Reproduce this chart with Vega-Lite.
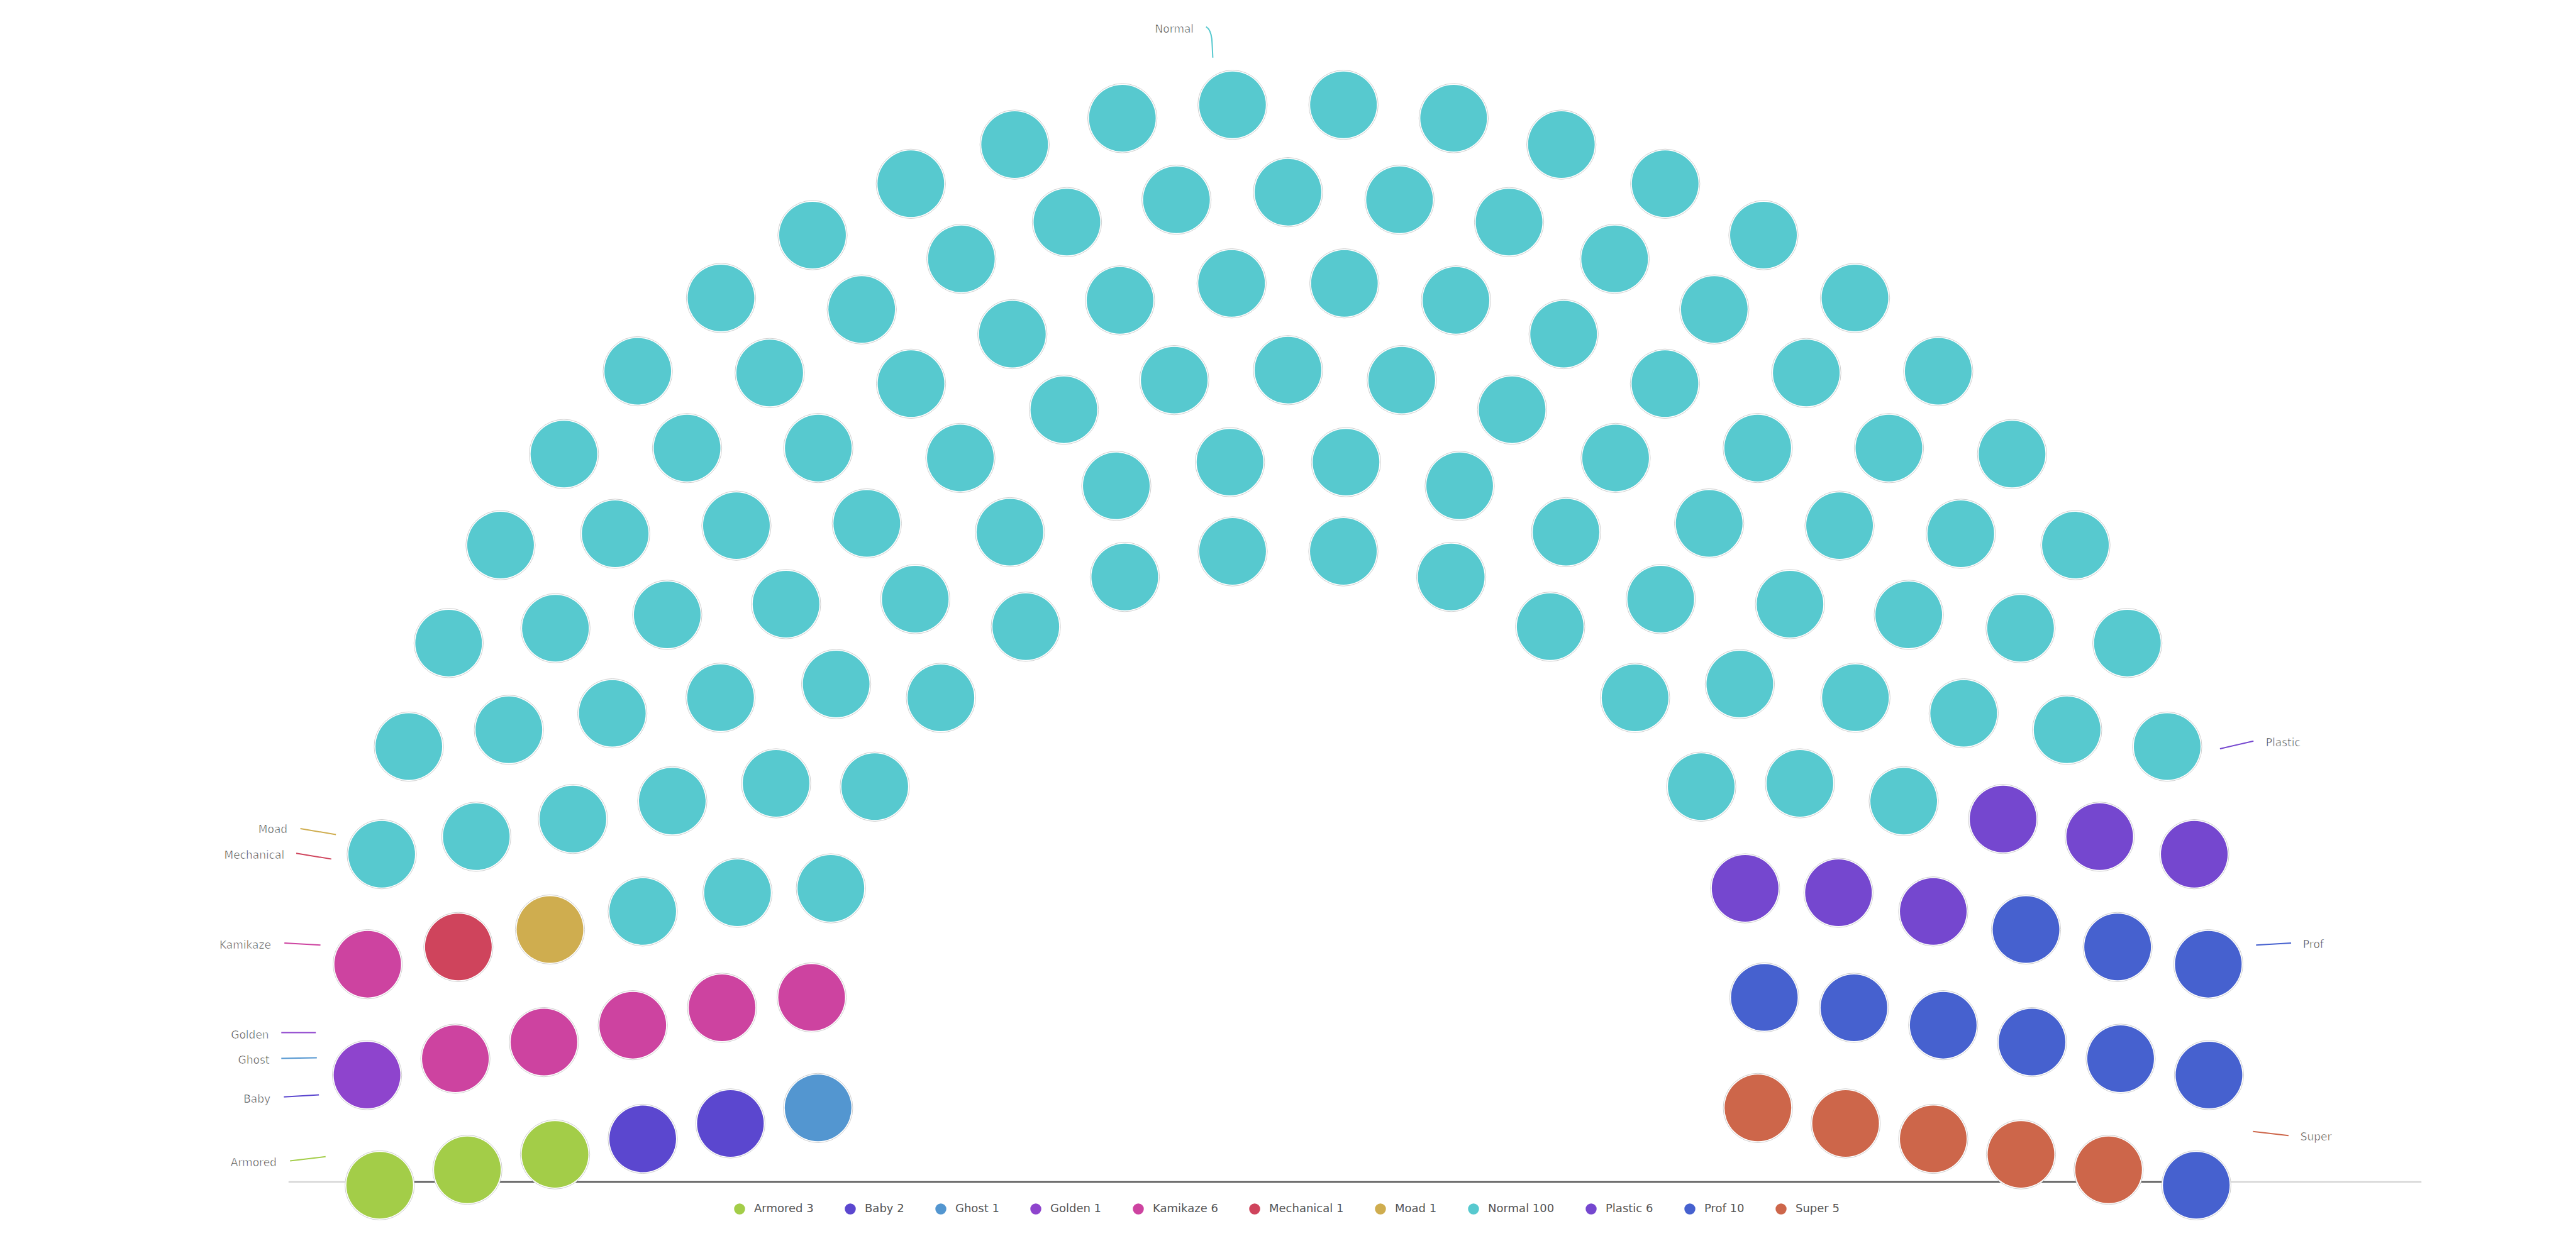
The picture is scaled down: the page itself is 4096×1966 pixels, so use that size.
{
  "$schema": "https://vega.github.io/schema/vega-lite/v6.json",
  "width": 4096,
  "height": 1966,
  "autosize": "none",
  "padding": 0,
  "background": "white",
  "config": {"view": {"stroke": null}},
  "datasets": {
    "seats": [
      {"party":"Armored","x":737.0,"y":2301.5},{"party":"Golden","x":712.4,"y":2087.5},{"party":"Kamikaze","x":713.7,"y":1872.2},
      {"party":"Normal","x":740.9,"y":1658.6},{"party":"Normal","x":793.5,"y":1449.7},{"party":"Normal","x":870.8,"y":1248.7},{"party":"Normal","x":971.6,"y":1058.5},{"party":"Normal","x":1094.6,"y":881.6},{"party":"Normal","x":1237.9,"y":720.9},{"party":"Normal","x":1399.5,"y":578.6},{"party":"Normal","x":1577.1,"y":456.6},{"party":"Normal","x":1767.9,"y":356.9},{"party":"Normal","x":1969.4,"y":280.8},{"party":"Normal","x":2178.5,"y":229.5},{"party":"Normal","x":2392.3,"y":203.6},{"party":"Normal","x":2607.7,"y":203.6},{"party":"Normal","x":2821.5,"y":229.5},{"party":"Normal","x":3030.6,"y":280.8},{"party":"Normal","x":3232.1,"y":356.9},{"party":"Normal","x":3422.9,"y":456.6},{"party":"Normal","x":3600.5,"y":578.6},{"party":"Normal","x":3762.1,"y":720.9},{"party":"Normal","x":3905.4,"y":881.6},{"party":"Normal","x":4028.4,"y":1058.5},{"party":"Normal","x":4129.2,"y":1248.7},{"party":"Normal","x":4206.5,"y":1449.7},
      {"party":"Plastic","x":4259.1,"y":1658.6},{"party":"Prof","x":4286.3,"y":1872.2},{"party":"Prof","x":4287.6,"y":2087.5},{"party":"Prof","x":4263.0,"y":2301.5},
      {"party":"Armored","x":907.2,"y":2271.5},{"party":"Kamikaze","x":883.9,"y":2055.7},{"party":"Mechanical","x":889.7,"y":1838.8},
      {"party":"Normal","x":924.5,"y":1624.6},{"party":"Normal","x":987.7,"y":1417.1},{"party":"Normal","x":1078.1,"y":1219.8},{"party":"Normal","x":1194.1,"y":1036.4},{"party":"Normal","x":1333.6,"y":870.2},{"party":"Normal","x":1494.0,"y":724.2},{"party":"Normal","x":1672.6,"y":600.9},{"party":"Normal","x":1866.0,"y":502.6},{"party":"Normal","x":2070.9,"y":431.2},{"party":"Normal","x":2283.5,"y":387.8},{"party":"Normal","x":2500.0,"y":373.2},{"party":"Normal","x":2716.5,"y":387.8},{"party":"Normal","x":2929.1,"y":431.2},{"party":"Normal","x":3134.0,"y":502.6},{"party":"Normal","x":3327.4,"y":600.9},{"party":"Normal","x":3506.0,"y":724.2},{"party":"Normal","x":3666.4,"y":870.2},{"party":"Normal","x":3805.9,"y":1036.4},{"party":"Normal","x":3921.9,"y":1219.8},{"party":"Normal","x":4012.3,"y":1417.1},
      {"party":"Plastic","x":4075.5,"y":1624.6},{"party":"Prof","x":4110.3,"y":1838.8},{"party":"Prof","x":4116.1,"y":2055.7},{"party":"Super","x":4092.8,"y":2271.5},
      {"party":"Armored","x":1077.3,"y":2241.5},{"party":"Kamikaze","x":1055.8,"y":2023.5},{"party":"Moad","x":1067.5,"y":1804.8},
      {"party":"Normal","x":1112.0,"y":1590.3},{"party":"Normal","x":1188.5,"y":1385.1},{"party":"Normal","x":1295.1,"y":1193.8},{"party":"Normal","x":1429.4,"y":1020.7},{"party":"Normal","x":1588.3,"y":870.0},{"party":"Normal","x":1768.3,"y":745.1},{"party":"Normal","x":1965.0,"y":648.8},{"party":"Normal","x":2174.0,"y":583.3},{"party":"Normal","x":2390.5,"y":550.2},{"party":"Normal","x":2609.5,"y":550.2},{"party":"Normal","x":2826.0,"y":583.3},{"party":"Normal","x":3035.0,"y":648.8},{"party":"Normal","x":3231.7,"y":745.1},{"party":"Normal","x":3411.7,"y":870.0},{"party":"Normal","x":3570.6,"y":1020.7},{"party":"Normal","x":3704.9,"y":1193.8},{"party":"Normal","x":3811.5,"y":1385.1},
      {"party":"Plastic","x":3888.0,"y":1590.3},{"party":"Prof","x":3932.5,"y":1804.8},{"party":"Prof","x":3944.2,"y":2023.5},{"party":"Super","x":3922.7,"y":2241.5},
      {"party":"Baby","x":1247.5,"y":2211.4},{"party":"Kamikaze","x":1228.2,"y":1990.6},
      {"party":"Normal","x":1247.5,"y":1769.8},{"party":"Normal","x":1304.9,"y":1555.6},{"party":"Normal","x":1398.6,"y":1354.7},{"party":"Normal","x":1525.7,"y":1173.1},{"party":"Normal","x":1682.5,"y":1016.3},{"party":"Normal","x":1864.1,"y":889.2},{"party":"Normal","x":2065.0,"y":795.5},{"party":"Normal","x":2279.2,"y":738.1},{"party":"Normal","x":2500.0,"y":718.8},{"party":"Normal","x":2720.8,"y":738.1},{"party":"Normal","x":2935.0,"y":795.5},{"party":"Normal","x":3135.9,"y":889.2},{"party":"Normal","x":3317.5,"y":1016.3},{"party":"Normal","x":3474.3,"y":1173.1},{"party":"Normal","x":3601.4,"y":1354.7},{"party":"Normal","x":3695.1,"y":1555.6},
      {"party":"Plastic","x":3752.5,"y":1769.8},{"party":"Prof","x":3771.8,"y":1990.6},{"party":"Super","x":3752.5,"y":2211.4},
      {"party":"Baby","x":1417.7,"y":2181.4},{"party":"Kamikaze","x":1401.5,"y":1956.8},
      {"party":"Normal","x":1431.5,"y":1733.5},{"party":"Normal","x":1506.4,"y":1521.1},{"party":"Normal","x":1623.0,"y":1328.3},{"party":"Normal","x":1776.5,"y":1163.4},{"party":"Normal","x":1960.3,"y":1033.3},{"party":"Normal","x":2166.8,"y":943.4},{"party":"Normal","x":2387.4,"y":897.4},{"party":"Normal","x":2612.6,"y":897.4},{"party":"Normal","x":2833.2,"y":943.4},{"party":"Normal","x":3039.7,"y":1033.3},{"party":"Normal","x":3223.5,"y":1163.4},{"party":"Normal","x":3377.0,"y":1328.3},{"party":"Normal","x":3493.6,"y":1521.1},
      {"party":"Plastic","x":3568.5,"y":1733.5},{"party":"Prof","x":3598.5,"y":1956.8},{"party":"Super","x":3582.3,"y":2181.4},
      {"party":"Ghost","x":1587.9,"y":2151.4},{"party":"Kamikaze","x":1575.4,"y":1936.7},
      {"party":"Normal","x":1612.7,"y":1725.0},{"party":"Normal","x":1697.9,"y":1527.5},{"party":"Normal","x":1826.3,"y":1355.0},{"party":"Normal","x":1991.1,"y":1216.8},{"party":"Normal","x":2183.2,"y":1120.3},{"party":"Normal","x":2392.5,"y":1070.7},{"party":"Normal","x":2607.5,"y":1070.7},{"party":"Normal","x":2816.8,"y":1120.3},{"party":"Normal","x":3008.9,"y":1216.8},{"party":"Normal","x":3173.7,"y":1355.0},{"party":"Normal","x":3302.1,"y":1527.5},
      {"party":"Plastic","x":3387.3,"y":1725.0},{"party":"Prof","x":3424.6,"y":1936.7},{"party":"Super","x":3412.1,"y":2151.4}
    ],
    "labels": [
      {"party":"Normal","side":"left","x":2317,"y":57},
      {"party":"Moad","side":"left","x":558,"y":1612},
      {"party":"Mechanical","side":"left","x":552,"y":1662},
      {"party":"Kamikaze","side":"left","x":526,"y":1836},
      {"party":"Golden","side":"left","x":522,"y":2010},
      {"party":"Ghost","side":"left","x":523,"y":2060},
      {"party":"Baby","side":"left","x":525,"y":2135},
      {"party":"Armored","side":"left","x":537,"y":2259},
      {"party":"Plastic","side":"right","x":4398,"y":1443},
      {"party":"Prof","side":"right","x":4470,"y":1835},
      {"party":"Super","side":"right","x":4465,"y":2208}
    ],
    "leaders": [
      {"party":"Normal","o":0,"x":2341,"y":52},{"party":"Normal","o":1,"x":2348,"y":60},{"party":"Normal","o":2,"x":2352,"y":75},{"party":"Normal","o":3,"x":2354,"y":112},
      {"party":"Moad","o":0,"x":583,"y":1609},{"party":"Moad","o":1,"x":652,"y":1620.5},
      {"party":"Mechanical","o":0,"x":575,"y":1657},{"party":"Mechanical","o":1,"x":643,"y":1668},
      {"party":"Kamikaze","o":0,"x":552,"y":1831},{"party":"Kamikaze","o":1,"x":622,"y":1835},
      {"party":"Golden","o":0,"x":546,"y":2005},{"party":"Golden","o":1,"x":613,"y":2005},
      {"party":"Ghost","o":0,"x":546,"y":2055},{"party":"Ghost","o":1,"x":615,"y":2054},
      {"party":"Baby","o":0,"x":551,"y":2130},{"party":"Baby","o":1,"x":619,"y":2126},
      {"party":"Armored","o":0,"x":563,"y":2254},{"party":"Armored","o":1,"x":632,"y":2246},
      {"party":"Plastic","o":0,"x":4309,"y":1454},{"party":"Plastic","o":1,"x":4374,"y":1439},
      {"party":"Prof","o":0,"x":4379,"y":1835},{"party":"Prof","o":1,"x":4447,"y":1831},
      {"party":"Super","o":0,"x":4373,"y":2197},{"party":"Super","o":1,"x":4442,"y":2205}
    ],
    "baseLight": [{"x":560,"x2":4700,"y":2295}],
    "baseDark": [{"x":700,"x2":4270,"y":2295}]
  },
  "layer": [
    {
      "data": {"name": "baseLight"},
      "mark": {"type": "rule", "color": "#d6d6d6", "strokeWidth": 2.5},
      "encoding": {
        "x": {"field": "x", "type": "quantitative", "scale": {"domain": [0, 5000], "nice": false, "zero": false}, "axis": null},
        "x2": {"field": "x2"},
        "y": {"field": "y", "type": "quantitative", "scale": {"domain": [0, 2400], "reverse": true, "nice": false, "zero": false}, "axis": null}
      }
    },
    {
      "data": {"name": "baseDark"},
      "mark": {"type": "rule", "color": "#5a5a5a", "strokeWidth": 2.5},
      "encoding": {
        "x": {"field": "x", "type": "quantitative", "axis": null},
        "x2": {"field": "x2"},
        "y": {"field": "y", "type": "quantitative", "axis": null}
      }
    },
    {
      "data": {"name": "seats"},
      "mark": {"type": "point", "shape": "circle", "filled": true, "fill": "white", "stroke": "#d0d0d0", "strokeWidth": 1, "size": 12174, "opacity": 1},
      "encoding": {
        "x": {"field": "x", "type": "quantitative", "axis": null},
        "y": {"field": "y", "type": "quantitative", "axis": null}
      }
    },
    {
      "data": {"name": "seats"},
      "mark": {"type": "circle", "size": 11234, "opacity": 1, "strokeWidth": 0},
      "encoding": {
        "x": {"field": "x", "type": "quantitative", "axis": null},
        "y": {"field": "y", "type": "quantitative", "axis": null},
        "color": {
          "field": "party", "type": "nominal",
          "scale": {
            "domain": ["Armored","Baby","Ghost","Golden","Kamikaze","Mechanical","Moad","Normal","Plastic","Prof","Super"],
            "range": ["#a3cd48","#5b47cf","#5396d0","#8e44cd","#cd43a0","#cf445c","#cfad4f","#57c9cf","#7547cf","#4661cf","#cd664a"]
          },
          "legend": {
            "orient": "none", "legendX": 1167, "legendY": 1914, "direction": "horizontal", "title": null,
            "symbolType": "circle", "symbolSize": 305, "symbolStrokeWidth": 0,
            "labelFont": "DejaVu Sans", "labelFontSize": 18, "labelColor": "#555", "labelOffset": 14, "columnPadding": 49, "padding": 0,
            "labelExpr": "datum.label + ' ' + ({'Armored':3,'Baby':2,'Ghost':1,'Golden':1,'Kamikaze':6,'Mechanical':1,'Moad':1,'Normal':100,'Plastic':6,'Prof':10,'Super':5})[datum.label]"
          }
        }
      }
    },
    {
      "data": {"name": "leaders"},
      "mark": {"type": "line", "strokeWidth": 2, "interpolate": "monotone"},
      "encoding": {
        "x": {"field": "x", "type": "quantitative", "axis": null},
        "y": {"field": "y", "type": "quantitative", "axis": null},
        "detail": {"field": "party"},
        "order": {"field": "o", "type": "quantitative"},
        "color": {"field": "party", "type": "nominal", "legend": null}
      }
    },
    {
      "data": {"name": "labels"},
      "transform": [{"filter": "datum.side == 'left'"}],
      "mark": {"type": "text", "align": "right", "baseline": "middle", "font": "DejaVu Sans", "fontSize": 17, "fill": "#333", "stroke": "white", "strokeWidth": 0.6},
      "encoding": {
        "x": {"field": "x", "type": "quantitative", "axis": null},
        "y": {"field": "y", "type": "quantitative", "axis": null},
        "text": {"field": "party"}
      }
    },
    {
      "data": {"name": "labels"},
      "transform": [{"filter": "datum.side == 'right'"}],
      "mark": {"type": "text", "align": "left", "baseline": "middle", "font": "DejaVu Sans", "fontSize": 17, "fill": "#333", "stroke": "white", "strokeWidth": 0.6},
      "encoding": {
        "x": {"field": "x", "type": "quantitative", "axis": null},
        "y": {"field": "y", "type": "quantitative", "axis": null},
        "text": {"field": "party"}
      }
    }
  ]
}
